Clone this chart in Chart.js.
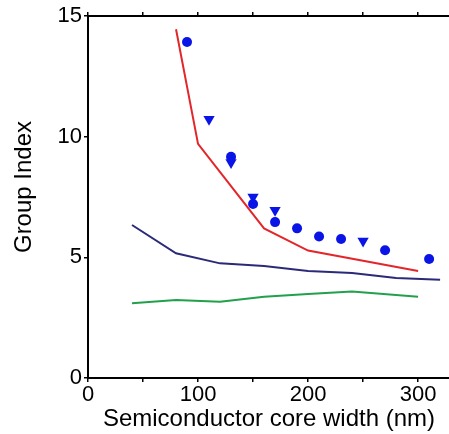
<!DOCTYPE html>
<html>
<head>
<meta charset="utf-8">
<script src="https://cdn.jsdelivr.net/npm/chart.js@4/dist/chart.umd.min.js"></script>
<style>
html,body{margin:0;padding:0;background:#fff;overflow:hidden;}
#wrap{width:460px;height:434px;}
</style>
</head>
<body>
<div id="wrap"><canvas id="c" width="460" height="434"></canvas></div>
<script>
// Data
const redX = [80, 100, 160, 200, 300];
const redY = [14.45, 9.7, 6.2, 5.28, 4.43];
const navyX = [40, 80, 120, 160, 200, 240, 280, 320];
const navyY = [6.34, 5.17, 4.75, 4.64, 4.43, 4.35, 4.14, 4.07];
const greenX = [40, 80, 120, 160, 200, 240, 300];
const greenY = [3.1, 3.23, 3.16, 3.37, 3.48, 3.58, 3.37];
const circleX = [90, 130, 150, 170, 190, 210, 230, 270, 310];
const circleY = [13.92, 9.17, 7.21, 6.46, 6.2, 5.86, 5.76, 5.29, 4.93];
const triX = [110, 130, 150, 170, 250];
const triY = [10.72, 8.93, 7.5, 6.95, 5.68];
const xTickLabels = [0, 100, 200, 300];
const yTickLabels = [0, 5, 10, 15];
const xTitle = 'Semiconductor core width (nm)';
const yTitle = 'Group Index';

const pts = (xs, ys) => xs.map((x, i) => ({x: x, y: ys[i]}));
const FONT = 'Liberation Sans, Arial, Helvetica, sans-serif';

const lineDs = (label, xs, ys, color) => ({
  label, data: pts(xs, ys), showLine: true, borderColor: color, backgroundColor: color,
  borderWidth: 2, pointRadius: 0, pointHoverRadius: 0, tension: 0
});

const fit = (size, dim) => function(scale){ scale[dim] = size; };

new Chart(document.getElementById('c'), {
  type: 'scatter',
  data: {
    datasets: [
      lineDs('red', redX, redY, '#e3262a'),
      lineDs('navy', navyX, navyY, '#2b2a78'),
      lineDs('green', greenX, greenY, '#22a04a'),
      {label: 'circles', data: pts(circleX, circleY), showLine: false, pointStyle: 'circle',
       pointRadius: 5, backgroundColor: '#0a14e6', borderColor: '#0a14e6', borderWidth: 0},
      {label: 'triangles', data: pts(triX, triY), showLine: false, pointStyle: 'triangle',
       rotation: 180, pointRadius: 6.5, backgroundColor: '#0a14e6', borderColor: '#0a14e6', borderWidth: 0}
    ]
  },
  options: {
    responsive: false,
    animation: false,
    events: [],
    layout: {padding: 0},
    plugins: {legend: {display: false}, tooltip: {enabled: false}},
    scales: {
      x: {
        type: 'linear', position: 'bottom', min: 0, max: 329,
        afterFit: fit(56, 'height'),
        border: {color: '#000', width: 2},
        grid: {drawOnChartArea: false, drawTicks: true, tickLength: 4, color: '#000', lineWidth: 1.5},
        ticks: {stepSize: 50, includeBounds: false, maxRotation: 0, autoSkip: false, padding: 0, color: '#000',
          font: {family: FONT, size: 22},
          callback: v => xTickLabels.includes(v) ? String(v) : ''},
        title: {display: true, text: xTitle, color: '#000', font: {family: FONT, size: 24}, padding: 0}
      },
      x2: {
        type: 'linear', position: 'top', min: 0, max: 329,
        afterFit: fit(16, 'height'),
        border: {color: '#000', width: 2},
        grid: {drawOnChartArea: false, drawTicks: true, tickLength: 4, color: '#000', lineWidth: 1.5},
        ticks: {display: false, stepSize: 50, includeBounds: false}
      },
      y: {
        type: 'linear', position: 'left', min: 0, max: 15,
        afterFit: fit(88, 'width'),
        border: {color: '#000', width: 2},
        grid: {drawOnChartArea: false, drawTicks: true, tickLength: 4, color: '#000', lineWidth: 1.5},
        ticks: {stepSize: 5, padding: 2, color: '#000', font: {family: FONT, size: 22},
          callback: v => yTickLabels.includes(v) ? String(v) : ''},
        title: {display: true, text: '   ' + yTitle, color: '#000', font: {family: FONT, size: 24}, padding: {top: 10, bottom: 0}}
      },
      y2: {
        type: 'linear', position: 'right', min: 0, max: 15,
        afterFit: fit(10, 'width'),
        border: {color: '#000', width: 2},
        grid: {drawOnChartArea: false, drawTicks: true, tickLength: 4, color: '#000', lineWidth: 1.5},
        ticks: {display: false, stepSize: 5}
      }
    }
  }
});
</script>
</body>
</html>
